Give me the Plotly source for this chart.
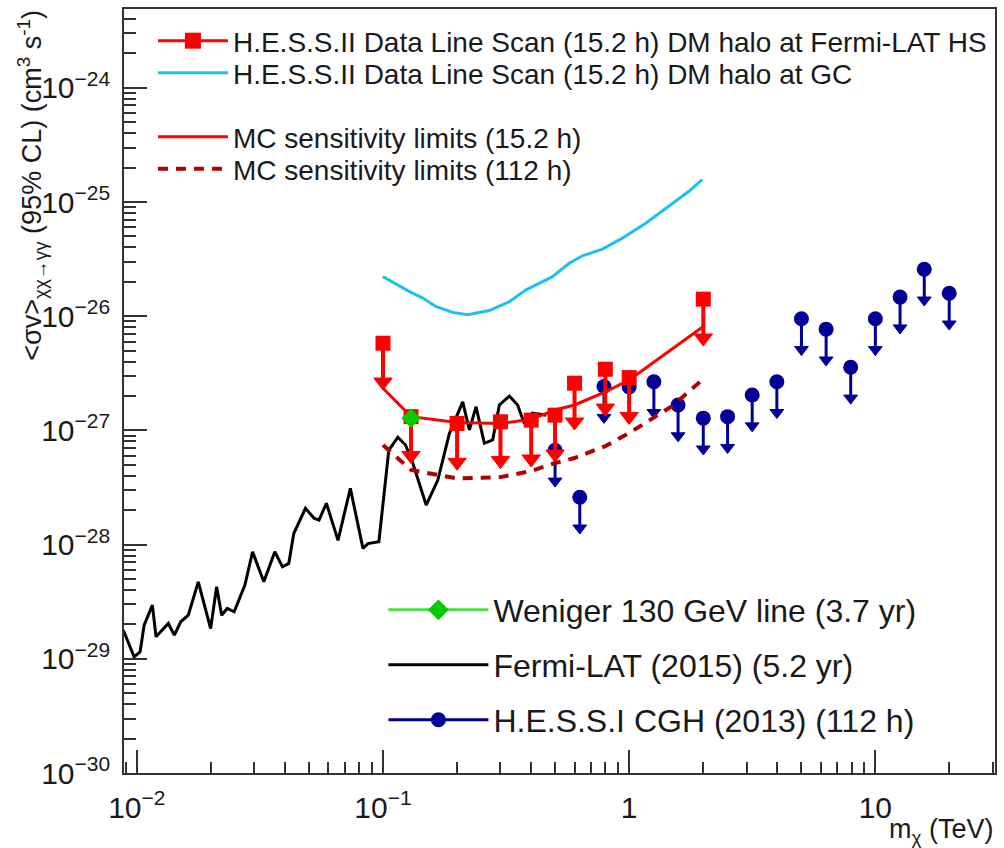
import plotly.graph_objects as go

# ---------------- data ----------------
# Fermi-LAT (2015) (5.2 yr) line limit
fermi_m = [0.00882, 0.00975, 0.01031, 0.01071, 0.01157, 0.01197, 0.01343, 0.01421, 0.01508, 0.01619,
           0.01777, 0.01995, 0.02110, 0.02211, 0.02329, 0.02486, 0.02748, 0.02953, 0.03281, 0.03636,
           0.03906, 0.04143, 0.04341, 0.04842, 0.05247, 0.05497, 0.05890, 0.06567, 0.07369, 0.08290,
           0.08685, 0.09624, 0.1056, 0.1149, 0.1235, 0.1322, 0.1498, 0.1670, 0.1862, 0.2108,
           0.2244, 0.2388, 0.2581, 0.2790, 0.2970, 0.3261, 0.3522, 0.3750, 0.4041, 0.4604]
fermi_sv = [1.78e-29, 1.04e-29, 1.15e-29, 1.97e-29, 2.95e-29, 1.56e-29, 2.04e-29, 1.61e-29, 2.11e-29, 2.41e-29,
            4.72e-29, 1.84e-29, 4.27e-29, 2.41e-29, 2.76e-29, 2.58e-29, 4.42e-29, 8.65e-29, 4.72e-29, 8.65e-29,
            6.39e-29, 6.84e-29, 1.25e-28, 2.08e-28, 1.70e-28, 1.64e-28, 2.30e-28, 1.09e-28, 3.11e-28, 9.26e-29,
            1.02e-28, 1.06e-28, 6.73e-28, 8.70e-28, 7.45e-28, 5.15e-28, 2.22e-28, 3.67e-28, 9.43e-28, 1.78e-27,
            1.01e-27, 1.61e-27, 7.71e-28, 8.24e-28, 1.67e-27, 2.00e-27, 1.67e-27, 1.15e-27, 1.42e-27, 1.36e-27]

# H.E.S.S.II line scan, DM halo at GC
gc_m = [0.0999, 0.1282, 0.1451, 0.1644, 0.1920, 0.2208, 0.2704, 0.3261, 0.3810, 0.4884,
        0.5706, 0.6461, 0.7788, 0.9386, 1.168, 1.451, 1.749, 1.980]
gc_sv = [2.22e-26, 1.64e-26, 1.44e-26, 1.21e-26, 1.08e-26, 1.03e-26, 1.12e-26, 1.34e-26, 1.70e-26, 2.22e-26,
         2.91e-26, 3.38e-26, 3.87e-26, 4.83e-26, 6.53e-26, 9.13e-26, 1.24e-25, 1.57e-25]

# H.E.S.S.II line scan, DM halo at Fermi-LAT HS (upper limits)
hs_m = [0.1, 0.13, 0.2, 0.3, 0.4, 0.5, 0.6, 0.8, 1.0, 2.0]
hs_sv = [5.8e-27, 1.32e-27, 1.15e-27, 1.19e-27, 1.23e-27, 1.36e-27, 2.59e-27, 3.43e-27, 2.90e-27, 1.41e-26]

# MC sensitivity limits
mc15_m = [0.1, 0.13, 0.2, 0.3, 0.4, 0.5, 0.6, 0.8, 1.0, 2.0]
mc15_sv = [2.34e-27, 1.32e-27, 1.17e-27, 1.15e-27, 1.25e-27, 1.51e-27, 1.67e-27, 2.17e-27, 2.77e-27, 8.11e-27]
mc112_m = [0.1, 0.13, 0.2, 0.3, 0.4, 0.5, 0.6, 0.8, 1.0, 1.5, 2.0]
mc112_sv = [7.45e-28, 4.5e-28, 3.80e-28, 3.90e-28, 4.41e-28, 5.18e-28, 5.73e-28, 7.29e-28, 9.48e-28, 1.64e-27, 2.82e-27]

# H.E.S.S.I CGH (2013) (112 h) upper limits
cgh_m = [0.5, 0.63, 0.79, 1.0, 1.26, 1.58, 2.0, 2.51, 3.16, 3.98, 5.01, 6.31, 7.94, 10.0, 12.6, 15.8, 19.95]
cgh_sv = [6.7e-28, 2.6e-28, 2.42e-27, 2.4e-27, 2.67e-27, 1.67e-27, 1.28e-27, 1.32e-27, 2.04e-27, 2.67e-27,
          9.5e-27, 7.7e-27, 3.57e-27, 9.5e-27, 1.47e-26, 2.58e-26, 1.59e-26]

# Weniger 130 GeV line
wen_m = [0.13]
wen_sv = [1.28e-27]

names = {
    "hs": "H.E.S.S.II Data Line Scan (15.2 h) DM halo at Fermi-LAT HS",
    "gc": "H.E.S.S.II Data Line Scan (15.2 h) DM halo at GC",
    "mc15": "MC sensitivity limits (15.2 h)",
    "mc112": "MC sensitivity limits (112 h)",
    "wen": "Weniger 130 GeV line (3.7 yr)",
    "fermi": "Fermi-LAT (2015) (5.2 yr)",
    "cgh": "H.E.S.S.I CGH (2013) (112 h)",
}

# ---------------- styles ----------------
RED = "#FF0000"
DRED = "#B00000"
BLUE = "#000099"
CYAN = "#1EC0F0"
GREEN = "#00CC00"
LGREEN = "#44E044"
FONT = "Liberation Sans, Arial, Helvetica, sans-serif"
TXT = "#1a1a1a"
AX = "#333333"

RED_ARROW_DEC = 0.34   # arrow length in decades (visual style)
BLUE_ARROW_DEC = 0.27


def arrow_xy(ms, vals, dec):
    xs, ys, hx, hy = [], [], [], []
    f = 10 ** (-dec)
    for m, v in zip(ms, vals):
        xs += [m, m, None]
        ys += [v, v * f, None]
        hx.append(m)
        hy.append(v * f)
    return xs, ys, hx, hy


fig = go.Figure()

# Fermi-LAT
fig.add_trace(go.Scatter(x=fermi_m, y=fermi_sv, mode="lines", line=dict(color="black", width=3),
                         name=names["fermi"], legend="legend6"))
# GC cyan
fig.add_trace(go.Scatter(x=gc_m, y=gc_sv, mode="lines", line=dict(color=CYAN, width=3),
                         name=names["gc"], legend="legend2"))
# HESS I CGH arrows
sx, sy, hx, hy = arrow_xy(cgh_m, cgh_sv, BLUE_ARROW_DEC)
fig.add_trace(go.Scatter(x=sx, y=sy, mode="lines", line=dict(color=BLUE, width=3), showlegend=False,
                         hoverinfo="skip"))
fig.add_trace(go.Scatter(x=hx, y=hy, mode="markers", showlegend=False, hoverinfo="skip",
                         marker=dict(symbol="triangle-down", size=12, color=BLUE, line=dict(color=BLUE, width=1))))
fig.add_trace(go.Scatter(x=cgh_m, y=cgh_sv, mode="markers", showlegend=False,
                         marker=dict(symbol="circle", size=15, color=BLUE)))
fig.add_trace(go.Scatter(x=[None], y=[None], mode="lines+markers", name=names["cgh"],
                         line=dict(color=BLUE, width=3), marker=dict(symbol="circle", size=15, color=BLUE),
                         legend="legend7"))
# MC 112 h dashed
fig.add_trace(go.Scatter(x=mc112_m, y=mc112_sv, mode="lines", line=dict(color=DRED, width=4, dash="10px,8px"),
                         name=names["mc112"], legend="legend4"))
# MC 15.2 h solid
fig.add_trace(go.Scatter(x=mc15_m, y=mc15_sv, mode="lines", line=dict(color=RED, width=3),
                         name=names["mc15"], legend="legend3"))
# HESS II HS arrows + squares
sx, sy, hx, hy = arrow_xy(hs_m, hs_sv, RED_ARROW_DEC)
fig.add_trace(go.Scatter(x=sx, y=sy, mode="lines", line=dict(color=RED, width=4), showlegend=False,
                         hoverinfo="skip"))
fig.add_trace(go.Scatter(x=hx, y=hy, mode="markers", showlegend=False, hoverinfo="skip",
                         marker=dict(symbol="triangle-down", size=16, color=RED, line=dict(color=RED, width=1))))
fig.add_trace(go.Scatter(x=hs_m, y=hs_sv, mode="markers", showlegend=False,
                         marker=dict(symbol="square", size=15, color=RED)))
fig.add_trace(go.Scatter(x=[None], y=[None], mode="lines+markers", name=names["hs"],
                         line=dict(color=RED, width=3), marker=dict(symbol="square", size=16, color=RED),
                         legend="legend"))
# Weniger
fig.add_trace(go.Scatter(x=wen_m, y=wen_sv, mode="markers", showlegend=False,
                         marker=dict(symbol="diamond", size=15, color=GREEN)))
fig.add_trace(go.Scatter(x=[None], y=[None], mode="lines+markers", name=names["wen"],
                         line=dict(color=LGREEN, width=3), marker=dict(symbol="diamond", size=16, color=GREEN),
                         legend="legend5"))

axis_common = dict(
    type="log", dtick=1, showgrid=False, zeroline=False, showline=True, linecolor=AX, linewidth=2, mirror=True,
    ticks="inside", tickcolor=AX, tickwidth=1.5, exponentformat="power",
    tickfont=dict(family=FONT, size=24, color=TXT),
)
fig.update_xaxes(**axis_common, range=[-2.052, 1.486], ticklen=23, ticklabelstandoff=8,
                 minor=dict(ticks="inside", ticklen=11, tickwidth=1.5, tickcolor=AX, dtick="D1"))
fig.update_yaxes(**axis_common, range=[-30, -23.31], ticklen=23, ticklabelstandoff=7,
                 minor=dict(ticks="inside", ticklen=12, tickwidth=1.5, tickcolor=AX, dtick="D1"))


def px2x(px):
    return (px - 124) / 873.0


def py2y(py):
    return (773 - py) / 764.0


def leg(left_px, row_py, size, itemwidth):
    return dict(x=px2x(left_px), y=py2y(row_py), xanchor="left", yanchor="middle",
                bgcolor="rgba(0,0,0,0)", font=dict(family=FONT, size=size, color=TXT),
                itemwidth=itemwidth)


fig.update_layout(
    width=1004, height=848,
    margin=dict(l=124, r=7, t=9, b=75),
    paper_bgcolor="white", plot_bgcolor="white",
    font=dict(family=FONT, color=TXT),
    legend=leg(153, 41, 28, 70),
    legend2=leg(153, 73, 28, 70),
    legend3=leg(153, 137, 28, 70),
    legend4=leg(153, 169, 28, 70),
    legend5=leg(384, 610, 32, 100),
    legend6=leg(384, 665, 32, 100),
    legend7=leg(384, 720, 32, 100),
    annotations=[
        dict(text="&lt;σv&gt;<sub>χχ→γγ</sub> (95% CL) (cm<sup>3</sup> s<sup>-1</sup>)",
             xref="paper", yref="paper", x=px2x(32), y=py2y(8), xanchor="center", yanchor="top",
             textangle=-90, showarrow=False, font=dict(family=FONT, size=27, color=TXT)),
        dict(text="m<sub>χ</sub> (TeV)", xref="paper", yref="paper", x=1.0, y=py2y(831),
             xanchor="right", yanchor="middle", showarrow=False,
             font=dict(family=FONT, size=27, color=TXT)),
    ],
)

fig.write_html("out.html")
